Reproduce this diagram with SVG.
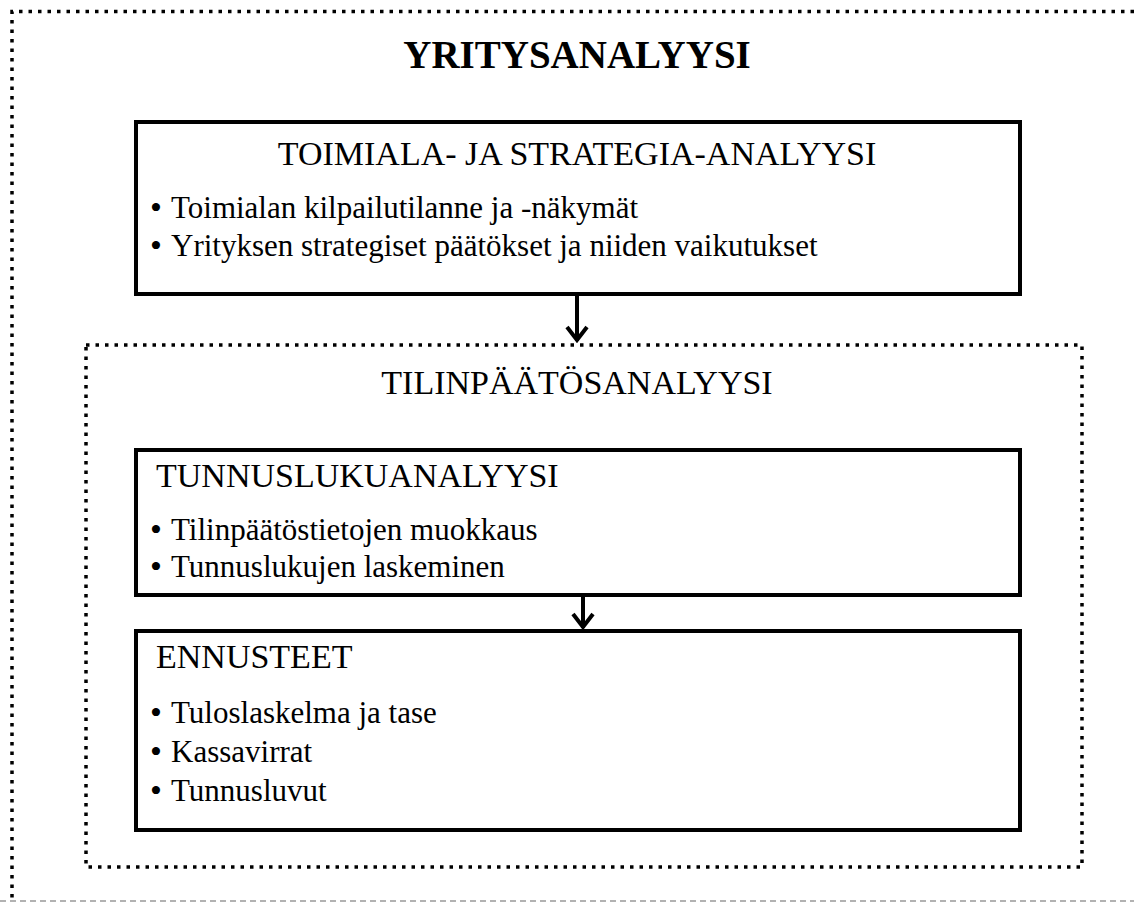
<svg xmlns="http://www.w3.org/2000/svg" width="1134" height="902" viewBox="0 0 1134 902" font-family="'Liberation Serif', 'Times New Roman', serif">
<defs>
<style>
.dot{fill:none;stroke:#000;stroke-width:3.5;stroke-dasharray:3.5 6}
.box{fill:#fff;stroke:#000;stroke-width:4}
text{font-family:"Liberation Serif","Times New Roman",serif;fill:#000}
.h{font-size:34px}
.b{font-size:31px}
.bl{font-size:34px}
.conn{fill:none;stroke:#000;stroke-width:4}
</style>
<marker id="ah" viewBox="0 0 18 24" markerUnits="userSpaceOnUse" markerWidth="18" markerHeight="24" refX="16" refY="12" orient="auto">
<path d="M2 2 L15 12 L2 22" fill="none" stroke="#000" stroke-width="4"/>
</marker>
</defs>
<rect width="1134" height="902" fill="#fff"/>
<g id="outer-frame">
<path class="dot" d="M1134 11.5 H12 V902"/>
<line x1="0" y1="901" x2="1134" y2="901" stroke="#999" stroke-width="1.5" stroke-dasharray="6 4"/>
<text x="577" y="68" text-anchor="middle" font-size="39" font-weight="bold">YRITYSANALYYSI</text>
</g>
<g id="strategy">
<rect class="box" x="136" y="122" width="884" height="172"/>
<text class="h" x="577" y="165" text-anchor="middle">TOIMIALA- JA STRATEGIA-ANALYYSI</text>
<text class="bl" x="150" y="219">•</text>
<text class="b" x="171" y="218">Toimialan kilpailutilanne ja -näkymät</text>
<text class="bl" x="150" y="257">•</text>
<text class="b" x="171" y="256">Yrityksen strategiset päätökset ja niiden vaikutukset</text>
</g>
<g id="financial">
<rect class="dot" x="86" y="345" width="996" height="522"/>
<text class="h" x="577" y="394" text-anchor="middle">TILINPÄÄTÖSANALYYSI</text>
</g>
<g id="ratio">
<rect class="box" x="136" y="450" width="884" height="145"/>
<text class="h" x="156" y="487">TUNNUSLUKUANALYYSI</text>
<text class="bl" x="150" y="541">•</text>
<text class="b" x="171" y="540">Tilinpäätöstietojen muokkaus</text>
<text class="bl" x="150" y="578">•</text>
<text class="b" x="171" y="577">Tunnuslukujen laskeminen</text>
</g>
<g id="forecast">
<rect class="box" x="136" y="631" width="884" height="199"/>
<text class="h" x="156" y="668">ENNUSTEET</text>
<text class="bl" x="150" y="724">•</text>
<text class="b" x="171" y="723">Tuloslaskelma ja tase</text>
<text class="bl" x="150" y="763">•</text>
<text class="b" x="171" y="762">Kassavirrat</text>
<text class="bl" x="150" y="802">•</text>
<text class="b" x="171" y="801">Tunnusluvut</text>
</g>
<g id="connectors">
<path class="conn" d="M577 296 V341" marker-end="url(#ah)"/>
<path class="conn" d="M583 597 V628" marker-end="url(#ah)"/>
</g>
</svg>
